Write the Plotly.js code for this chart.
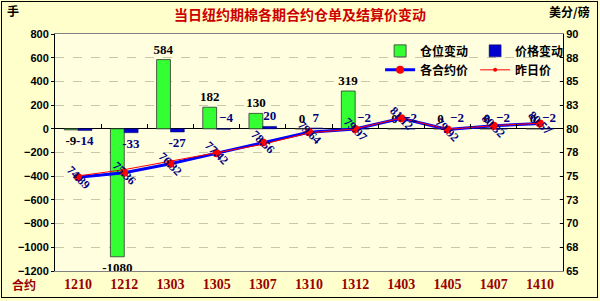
<!DOCTYPE html>
<html><head><meta charset="utf-8">
<script src="https://cdn.plot.ly/plotly-3.0.1.min.js"></script>
<style>
html,body{margin:0;padding:0;background:#FFFFCC;}
#wrap{position:relative;width:600px;height:301px;}
#frame{position:absolute;left:1px;top:1px;width:595px;height:295px;border:1px solid #000;pointer-events:none;}
</style></head>
<body>
<div id="wrap"><div id="chart" style="width:600px;height:301px;"></div><div id="frame"></div></div>
<script>
const categories = ['1210','1212','1303','1305','1307','1310','1312','1403','1405','1407','1410'];
const oiChange = [-9, -1080, 584, 182, 130, 0, 319, 0, 0, 0, 0];
const priceChange = [-14, -33, -27, -4, 20, 7, -2, -2, -2, -2, -2];
const settlePrice = [74.89, 75.36, 76.32, 77.42, 78.56, 79.64, 79.97, 81.12, 79.92, 80.32, 80.57];
const prevPrice = [75.03, 75.69, 76.59, 77.46, 78.36, 79.57, 79.99, 81.14, 79.94, 80.34, 80.59];
const leftTicks = [-1200, -1000, -800, -600, -400, -200, 0, 200, 400, 600, 800];
const rightTickVals = [65, 67.5, 70, 72.5, 75, 77.5, 80, 82.5, 85, 87.5, 90];
const rightTickText = ['65', '68', '70', '73', '75', '78', '80', '83', '85', '88', '90'];

const serifBold = {family: 'Liberation Serif, serif', weight: 'bold'};
const sansBold = {family: 'Liberation Sans, Arial, sans-serif', weight: 'bold'};
const cjk = 'Noto Sans CJK SC, sans-serif';

// small negative price changes get their label drawn above the zero line, as in the reference
const smallNeg = v => v < 0 && v > -5;
const blueFont = Object.assign({size: 13, color: '#000080'}, serifBold);

const traces = [
  {type: 'bar', name: '仓位变动', x: categories, y: oiChange, xaxis: 'x', yaxis: 'y',
   marker: {color: '#33FF33', line: {color: '#333333', width: 0.8}},
   text: oiChange.map(String), textposition: 'outside', cliponaxis: false, constraintext: 'none',
   textfont: Object.assign({size: 13, color: '#000000'}, serifBold), legend: 'legend'},
  {type: 'bar', name: '价格变动', x: categories, y: priceChange, xaxis: 'x', yaxis: 'y',
   marker: {color: '#0000CC', line: {color: '#000066', width: 0.5}},
   text: priceChange.map(v => smallNeg(v) ? '' : String(v)), textposition: 'outside', cliponaxis: false, constraintext: 'none',
   textfont: blueFont, legend: 'legend'},
  {type: 'scatter', mode: 'lines+markers', name: '各合约价', x: categories, y: settlePrice, xaxis: 'x', yaxis: 'y2',
   line: {color: '#0000FF', width: 3}, marker: {color: '#FF0000', size: 8}, legend: 'legend2'},
  {type: 'scatter', mode: 'lines+markers', name: '昨日价', x: categories, y: prevPrice, xaxis: 'x', yaxis: 'y2',
   line: {color: '#FF0000', width: 1}, marker: {color: '#FF0000', size: 4}, legend: 'legend2'},
  {type: 'scatter', mode: 'markers', x: categories, y: categories.map(() => null), xaxis: 'x2', yaxis: 'y',
   showlegend: false, hoverinfo: 'skip', marker: {opacity: 0}}
];

const priceAnns = categories.map((c, i) => ({
  x: i, y: settlePrice[i], xref: 'x', yref: 'y2', text: settlePrice[i].toFixed(2),
  showarrow: false, textangle: 45,
  font: Object.assign({size: 12, color: '#000080'}, serifBold)
}));

const smallNegAnns = [];
priceChange.forEach((v, i) => {
  if (smallNeg(v)) smallNegAnns.push({x: i, y: 0, xref: 'x', yref: 'y', text: String(v).replace('-', '\u2212'),
    showarrow: false, xshift: 9, yshift: 11, font: blueFont});
});

const zeroPos = (0 - leftTicks[0]) / (leftTicks[leftTicks.length - 1] - leftTicks[0]);

const layout = {
  width: 600, height: 301,
  paper_bgcolor: '#FFFFCC', plot_bgcolor: '#FFFFE0',
  margin: {l: 55, r: 37, t: 34, b: 30},
  title: {text: '当日纽约期棉各期合约仓单及结算价变动', x: 0.5, xanchor: 'center', y: 0.95, yanchor: 'middle',
          font: {family: cjk, size: 14, color: '#CC0000', weight: 'bold'}},
  showlegend: true,
  barmode: 'group', bargap: 0.4, bargroupgap: 0,
  xaxis: {type: 'category', range: [-0.5, categories.length - 0.5], showline: true, linecolor: '#808080', linewidth: 1, mirror: true,
          ticks: '', tickfont: Object.assign({size: 14, color: '#990000'}, serifBold), showgrid: false, fixedrange: true},
  xaxis2: {type: 'category', overlaying: 'x', anchor: 'free', position: zeroPos, range: [-0.5, categories.length - 0.5],
           showline: false, showticklabels: false, ticks: 'inside', ticklen: 5, tickcolor: '#000',
           tickson: 'boundaries', showgrid: false, zeroline: false, fixedrange: true},
  yaxis: {range: [leftTicks[0], leftTicks[leftTicks.length - 1]], tickvals: leftTicks,
          showline: true, linecolor: '#000', linewidth: 1, ticks: 'outside', ticklen: 3, tickcolor: '#000',
          showgrid: true, gridcolor: '#C8C8A8', griddash: 'dash', gridwidth: 1,
          zeroline: true, zerolinecolor: '#000', zerolinewidth: 1,
          tickfont: Object.assign({size: 11, color: '#000'}, sansBold), fixedrange: true},
  yaxis2: {overlaying: 'y', side: 'right', range: [rightTickVals[0], rightTickVals[rightTickVals.length - 1]],
           tickvals: rightTickVals, ticktext: rightTickText, showgrid: false, zeroline: false,
           showline: true, linecolor: '#000', linewidth: 1, ticks: 'inside', ticklen: 3, tickcolor: '#000',
           tickfont: Object.assign({size: 11, color: '#000'}, sansBold), fixedrange: true},
  legend: {orientation: 'h', x: 0.64, xanchor: 'left', y: 0.99, yanchor: 'top', bgcolor: 'rgba(0,0,0,0)',
           entrywidth: 50, entrywidthmode: 'pixels', font: {family: cjk, size: 12, color: '#000', weight: 'bold'},
           traceorder: 'normal', itemclick: false},
  legend2: {orientation: 'h', x: 0.64, xanchor: 'left', y: 0.91, yanchor: 'top', bgcolor: 'rgba(0,0,0,0)',
           entrywidth: 50, entrywidthmode: 'pixels', font: {family: cjk, size: 12, color: '#000', weight: 'bold'},
           traceorder: 'normal', itemclick: false},
  annotations: priceAnns.concat(smallNegAnns, [
    {xref: 'paper', yref: 'paper', x: -0.082, y: 1.1, text: '手', showarrow: false, xanchor: 'center', yanchor: 'middle',
     font: {family: cjk, size: 12, color: '#000', weight: 'bold'}},
    {xref: 'paper', yref: 'paper', x: 1.013, y: 1.095, text: '美分/磅', showarrow: false, xanchor: 'center', yanchor: 'middle',
     font: {family: cjk, size: 12, color: '#000', weight: 'bold'}},
    {xref: 'paper', yref: 'paper', x: -0.062, y: -0.058, text: '合约', showarrow: false, xanchor: 'center', yanchor: 'middle',
     font: {family: cjk, size: 12, color: '#990000', weight: 'bold'}}
  ])
};

Plotly.newPlot('chart', traces, layout, {staticPlot: true, displayModeBar: false});
</script>
</body></html>
